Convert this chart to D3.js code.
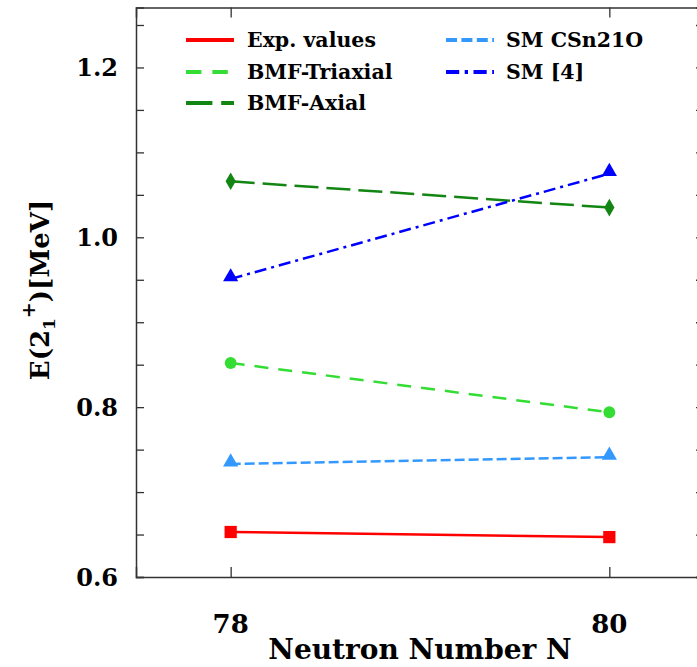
<!DOCTYPE html>
<html>
<head>
<meta charset="utf-8">
<script src="https://cdn.jsdelivr.net/npm/d3@7"></script>
<style>
  body { margin: 0; background: #fff; }
</style>
</head>
<body>
<div id="wrapper"></div>
<script>
const neutrons = [78, 80];
const expValues = [0.653, 0.647];
const bmfTriaxial = [0.852, 0.794];
const bmfAxial = [1.066, 1.035];
const smCSn21O = [0.733, 0.741];
const sm4 = [0.951, 1.075];
const yTicks = [0.6, 0.8, 1.0, 1.2];

const series = [
  { name: "Exp. values", values: expValues, color: "#ff0000", dash: null, marker: "square", col: 0, row: 0 },
  { name: "BMF-Triaxial", values: bmfTriaxial, color: "#33dd33", dash: "14,10", marker: "circle", col: 0, row: 1 },
  { name: "BMF-Axial", values: bmfAxial, color: "#128512", dash: "24,8", marker: "diamond", col: 0, row: 2 },
  { name: "SM CSn21O", values: smCSn21O, color: "#3399ff", dash: "10,4", marker: "triangle", col: 1, row: 0 },
  { name: "SM [4]", values: sm4, color: "#0000ff", dash: "12,5,3,5", marker: "triangle", col: 1, row: 1 }
];

const serif = "'DejaVu Serif', serif";

function draw() {
  let dimensions = {
    width: 697,
    height: 667,
    margin: { top: 7.5, left: 136, bottom: 90, right: -7 }
  };
  dimensions.boundedWidth = dimensions.width - dimensions.margin.left - dimensions.margin.right;
  dimensions.boundedHeight = dimensions.height - dimensions.margin.top - dimensions.margin.bottom;

  const svg = d3.select("#wrapper").append("svg")
    .attr("width", dimensions.width)
    .attr("height", dimensions.height)
    .attr("font-family", serif)
    .attr("font-weight", "bold");

  const g = svg.append("g")
    .attr("transform", `translate(${dimensions.margin.left},${dimensions.margin.top})`);

  const x = d3.scaleLinear().domain([77.5, 80.5]).range([0, dimensions.boundedWidth]);
  const y = d3.scaleLinear().domain([0.6, 1.2706]).range([dimensions.boundedHeight, 0]);

  const minor = d3.range(0.6, 1.27, 0.05);
  const axisColor = "#333";

  // axes with inner ticks
  const left = g.append("g").call(d3.axisLeft(y).tickValues(minor).tickSize(-8).tickFormat(""));
  const right = g.append("g").attr("transform", `translate(${dimensions.boundedWidth},0)`)
    .call(d3.axisRight(y).tickValues(minor).tickSize(-8).tickFormat(""));
  const bottom = g.append("g").attr("transform", `translate(0,${dimensions.boundedHeight})`)
    .call(d3.axisBottom(x).tickValues(neutrons).tickSize(-10).tickFormat(""));
  const top = g.append("g").call(d3.axisTop(x).tickValues(neutrons).tickSize(-10).tickFormat(""));
  [left, right, bottom, top].forEach(a => {
    a.selectAll("path").attr("stroke", axisColor).attr("stroke-width", 1.5);
    a.selectAll("line").attr("stroke", axisColor).attr("stroke-width", 1.3);
  });

  // tick labels
  g.selectAll(".ylab").data(yTicks).enter().append("text")
    .attr("x", -18).attr("y", d => y(d) + 9)
    .attr("text-anchor", "end").attr("font-size", 24)
    .text(d => d.toFixed(1));
  g.selectAll(".xlab").data(neutrons).enter().append("text")
    .attr("x", d => x(d)).attr("y", dimensions.boundedHeight + 56)
    .attr("text-anchor", "middle").attr("font-size", 26)
    .text(d => d);

  // axis titles
  svg.append("text")
    .attr("x", dimensions.margin.left + dimensions.boundedWidth / 2)
    .attr("y", 659)
    .attr("text-anchor", "middle").attr("font-size", 28)
    .text("Neutron Number N");

  const yt = svg.append("text")
    .attr("transform", "translate(49,290) rotate(-90)")
    .attr("text-anchor", "middle").attr("font-size", 26);
  yt.append("tspan").text("E(2");
  yt.append("tspan").attr("font-size", 17).attr("dy", 6).text("1");
  yt.append("tspan").attr("font-size", 19).attr("dy", -20).text("+");
  yt.append("tspan").attr("dy", 14).text(")[MeV]");

  const symbols = {
    square: d3.symbol().type(d3.symbolSquare).size(150),
    circle: d3.symbol().type(d3.symbolCircle).size(110),
    diamond: d3.symbol().type(d3.symbolDiamond).size(90),
    triangle: d3.symbol().type(d3.symbolTriangle).size(100)
  };

  const line = d3.line().x((d, i) => x(neutrons[i])).y(d => y(d));

  series.forEach(s => {
    g.append("path")
      .datum(s.values)
      .attr("fill", "none")
      .attr("stroke", s.color)
      .attr("stroke-width", 2.5)
      .attr("stroke-dasharray", s.dash)
      .attr("d", line);
    g.selectAll(null).data(s.values).enter().append("path")
      .attr("transform", (d, i) => `translate(${x(neutrons[i])},${y(d) - (s.marker === "triangle" ? 2 : 0)})`)
      .attr("d", symbols[s.marker]())
      .attr("fill", s.color);
  });

  // legend
  const legend = svg.append("g");
  const colX = [186, 446];
  const rowY = [40, 72, 103];
  series.forEach(s => {
    const lx = colX[s.col], ly = rowY[s.row];
    legend.append("line")
      .attr("x1", lx).attr("x2", lx + 48)
      .attr("y1", ly).attr("y2", ly)
      .attr("stroke", s.color).attr("stroke-width", 4)
      .attr("stroke-dasharray", s.dash ? s.dash.split(",").map(v => +v * 1.1).join(",") : null);
    legend.append("text")
      .attr("x", lx + (s.col === 0 ? 61 : 60))
      .attr("y", ly + 7)
      .attr("font-size", 20.5)
      .text(s.name);
  });
}

draw();
</script>
</body>
</html>
